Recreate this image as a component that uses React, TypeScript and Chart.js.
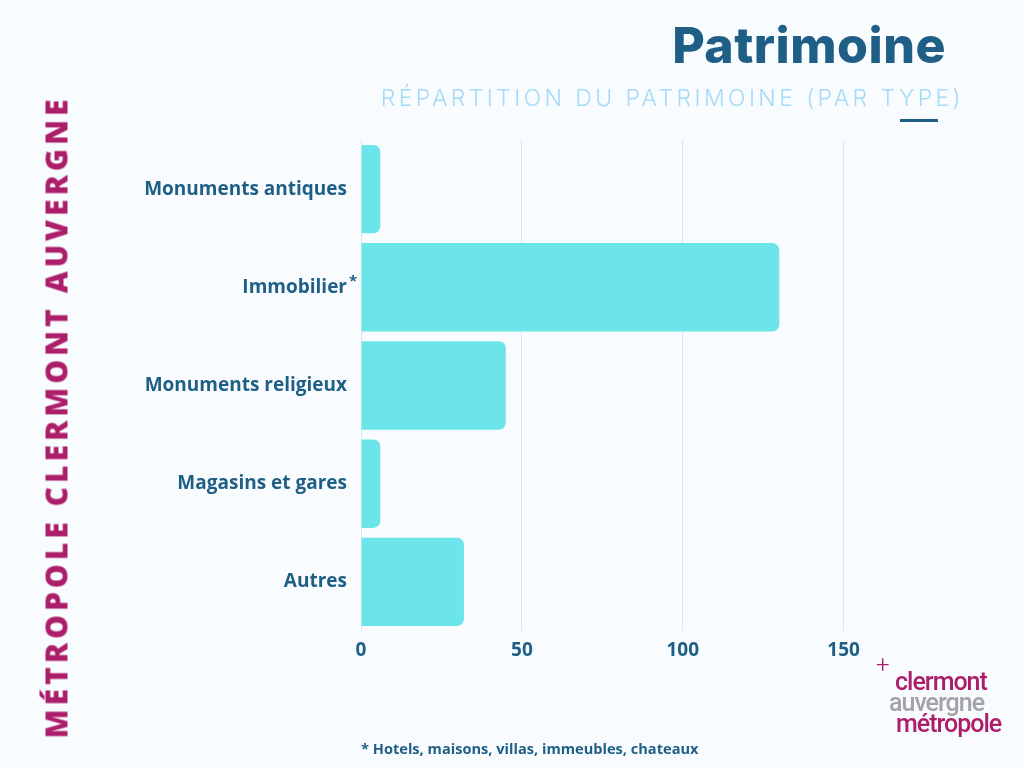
import React, { useEffect, useRef } from 'react';
import { Chart, registerables } from 'chart.js';

Chart.register(...registerables);

const categories = ['Monuments antiques', 'Immobilier', 'Monuments religieux', 'Magasins et gares', 'Autres'];
const counts = [6, 130, 45, 6, 32];
const xMax = 170;
const xStep = 50;

const DARK_BLUE = '#1f5f86';
const MAGENTA = '#ad1e6a';
const BAR_CYAN = '#6ce5ea';
const BG = '#f8fcff';

// draws the superscript asterisk after "Immobilier"
const asteriskPlugin = {
  id: 'asterisk',
  afterDraw(chart: any) {
    const y = chart.scales.y;
    const ctx = chart.ctx;
    const py = y.getPixelForValue(1);
    ctx.save();
    ctx.fillStyle = DARK_BLUE;
    ctx.font = 'bold 15px "Open Sans"';
    ctx.textAlign = 'left';
    ctx.textBaseline = 'middle';
    ctx.fillText('*', chart.chartArea.left - 12, py - 6);
    ctx.restore();
  },
};

export default function App() {
  const canvasRef = useRef<HTMLCanvasElement>(null);

  useEffect(() => {
    if (!canvasRef.current) return;
    const chart = new Chart(canvasRef.current, {
      type: 'bar',
      data: {
        labels: categories,
        datasets: [
          {
            data: counts,
            backgroundColor: BAR_CYAN,
            borderRadius: 7,
            barPercentage: 0.9,
            categoryPercentage: 1,
          },
        ],
      },
      options: {
        indexAxis: 'y',
        responsive: false,
        animation: false,
        layout: { padding: { left: 130, top: 140, right: 116, bottom: 97 } },
        plugins: { legend: { display: false }, tooltip: { enabled: false } },
        scales: {
          x: {
            min: 0,
            max: xMax,
            afterFit: (s: any) => { s.height = 40; },
            border: { display: false },
            grid: { color: '#dde6ee', drawTicks: false, lineWidth: 1 },
            ticks: {
              stepSize: xStep,
              padding: 8,
              color: DARK_BLUE,
              font: { family: '"Open Sans"', size: 19, weight: 'bold' },
              callback: (v: any) => (Number(v) % xStep === 0 ? String(v) : null),
            },
          },
          y: {
            afterFit: (s: any) => { s.width = 231; },
            border: { display: false },
            grid: { display: false, drawTicks: false },
            ticks: {
              padding: 14,
              color: DARK_BLUE,
              font: { family: '"Open Sans"', size: 19, weight: 'bold' },
            },
          },
        },
      },
      plugins: [asteriskPlugin],
    });
    return () => chart.destroy();
  }, []);

  return (
    <div style={{ position: 'absolute', left: 0, top: 0, width: 1024, height: 768, background: BG, overflow: 'hidden' }}>
      <canvas ref={canvasRef} width={1024} height={768} style={{ position: 'absolute', left: 0, top: 0 }} />
      <div style={{ position: 'absolute', right: 78, top: 15, fontFamily: 'Inter', fontWeight: 800, fontSize: 50, color: DARK_BLUE, letterSpacing: 0.5 }}>
        Patrimoine
      </div>
      <div style={{ position: 'absolute', right: 60, top: 84, fontFamily: 'Inter', fontWeight: 300, fontSize: 23, color: '#a6daf7', letterSpacing: 3.4 }}>
        RÉPARTITION DU PATRIMOINE (PAR TYPE)
      </div>
      <div style={{ position: 'absolute', left: 900, top: 119, width: 38, height: 3, background: DARK_BLUE }} />
      <div
        style={{
          position: 'absolute',
          left: 56,
          top: 417,
          transform: 'translate(-50%, -50%) rotate(-90deg)',
          whiteSpace: 'nowrap',
          fontFamily: '"Open Sans"',
          fontWeight: 800,
          fontSize: 30,
          letterSpacing: 4,
          color: MAGENTA,
        }}
      >
        MÉTROPOLE CLERMONT AUVERGNE
      </div>
      <div style={{ position: 'absolute', left: 361, top: 738, fontFamily: '"Open Sans"', fontWeight: 700, fontSize: 14.6, color: DARK_BLUE }}>
        * Hotels, maisons, villas, immeubles, chateaux
      </div>
      <div style={{ position: 'absolute', left: 876, top: 651, fontFamily: 'Roboto', fontWeight: 300, fontSize: 24, color: MAGENTA }}>+</div>
      <div style={{ position: 'absolute', left: 889, top: 671, fontFamily: 'Roboto', fontWeight: 500, fontSize: 25, lineHeight: '21px', letterSpacing: -1 }}>
        <div style={{ color: MAGENTA, marginLeft: 6 }}>clermont</div>
        <div style={{ color: '#a3a3a5' }}>auvergne</div>
        <div style={{ color: MAGENTA, marginLeft: 7 }}>métropole</div>
      </div>
    </div>
  );
}
